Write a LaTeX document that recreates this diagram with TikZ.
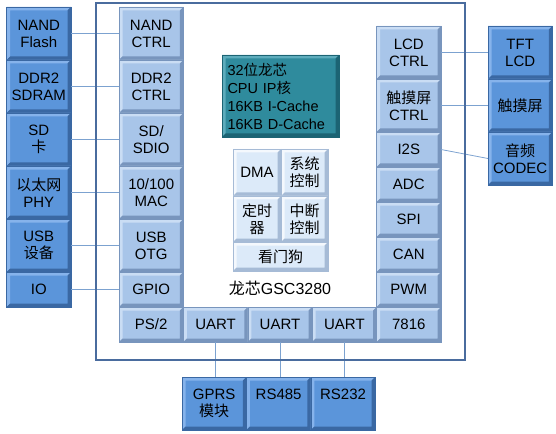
\documentclass[tikz,border=0pt]{standalone}
\usepackage{fontspec}
\setmainfont{Liberation Sans}
\newfontfamily\cjk{Noto Sans CJK SC}
\usepackage{tikz}
\usetikzlibrary{positioning,calc}

\definecolor{extblue}{HTML}{5B95DA}
\definecolor{extlight}{HTML}{86B3EB}
\definecolor{extdark}{HTML}{3A68A3}
\definecolor{intblue}{HTML}{A8C5E9}
\definecolor{intlight}{HTML}{CADDF4}
\definecolor{intdark}{HTML}{7895BD}
\definecolor{cputeal}{HTML}{2F8B9D}
\definecolor{cpulight}{HTML}{5EACBC}
\definecolor{cpudark}{HTML}{1C6474}
\definecolor{ctlblue}{HTML}{DCEAF9}
\definecolor{ctllight}{HTML}{F4F8FD}
\definecolor{ctldark}{HTML}{A6BBD6}
\definecolor{frameblue}{HTML}{4A6C9E}
\definecolor{linkblue}{HTML}{7CA2D0}

% bevelled edges: light top/left, dark bottom/right
\newcommand\bevel[3]{%
  \path (path picture bounding box.north west) coordinate (bA)
        (path picture bounding box.north east) coordinate (bB)
        (path picture bounding box.south east) coordinate (bC)
        (path picture bounding box.south west) coordinate (bD);
  \fill[#1] (bA) -- (bB) -- ([shift={(-#3,-#3)}]bB) -- ([shift={(#3,-#3)}]bA)
        -- ([shift={(#3,#3)}]bD) -- (bD) -- cycle;
  \fill[#2] (bC) -- (bD) -- ([shift={(#3,#3)}]bD) -- ([shift={(-#3,#3)}]bC)
        -- ([shift={(-#3,-#3)}]bB) -- (bB) -- cycle;
}

\tikzset{
  blk/.style n args={3}{draw=#3, line width=0.5pt, fill=#1,
    path picture={\bevel{#2}{#3}{3.5bp}}, outer sep=0pt, inner sep=1pt,
    align=center, font=\fontsize{15bp}{17bp}\selectfont,
    minimum width=64.4bp, minimum height=53bp},
  ext/.style={blk={extblue}{extlight}{extdark}},
  inn/.style={blk={intblue}{intlight}{intdark}},
  ctl/.style={blk={ctlblue}{ctllight}{ctldark}},
  cpu/.style={blk={cputeal}{cpulight}{cpudark}},
  short/.style={minimum height=35bp},
  link/.style={linkblue, line width=0.8pt},
}

\begin{document}
\begin{tikzpicture}[x=1bp, y=-1bp]
    \useasboundingbox (0,0) rectangle (556,434);

    % inner left column
    \node[inn, anchor=north west] (nandc) at (119,7) {NAND\\CTRL};
    \node[inn, below=0pt of nandc] (ddrc) {DDR2\\CTRL};
    \node[inn, below=0pt of ddrc] (sdio) {SD/\\SDIO};
    \node[inn, below=0pt of sdio] (mac) {10/100\\MAC};
    \node[inn, below=0pt of mac] (otg) {USB\\OTG};
    \node[inn, short, below=0pt of otg] (gpio) {GPIO};
    \node[inn, short, below=0pt of gpio] (ps2) {PS/2};

    % bottom row
    \node[inn, short, right=0pt of ps2] (uarta) {UART};
    \node[inn, short, right=0pt of uarta] (uartb) {UART};
    \node[inn, short, right=0pt of uartb] (uartc) {UART};
    \node[inn, short, right=0pt of uartc] (iso) {7816};

    % inner right column
    \node[inn, short, above=0pt of iso] (pwm) {PWM};
    \node[inn, short, above=0pt of pwm] (can) {CAN};
    \node[inn, short, above=0pt of can] (spi) {SPI};
    \node[inn, short, above=0pt of spi] (adc) {ADC};
    \node[inn, short, above=0pt of adc] (iis) {I2S};
    \node[inn, above=0pt of iis] (touchc) {{\cjk 触摸屏}\\CTRL};
    \node[inn, above=0pt of touchc] (lcdc) {LCD\\CTRL};

    % external devices, left
    \node[ext, left=48bp of nandc] (nandf) {NAND\\Flash};
    \node[ext, below=0pt of nandf] (sdram) {DDR2\\SDRAM};
    \node[ext, below=0pt of sdram] (sdcard) {SD\\{\cjk 卡}};
    \node[ext, below=0pt of sdcard] (phy) {{\cjk 以太网}\\PHY};
    \node[ext, below=0pt of phy] (usbdev) {USB\\{\cjk 设备}};
    \node[ext, short, below=0pt of usbdev] (io) {IO};

    % external devices, right
    \node[ext, right=47bp of lcdc] (tft) {TFT\\LCD};
    \node[ext, below=0pt of tft] (touch) {\cjk 触摸屏};
    \node[ext, below=0pt of touch] (codec) {{\cjk 音频}\\CODEC};

    % external devices, bottom
    \node[ext, anchor=north west] (gprs) at (182,377) {GPRS\\{\cjk 模块}};
    \node[ext, right=0pt of gprs, text depth=19bp] (rsa) {RS485};
    \node[ext, right=0pt of rsa, text depth=19bp] (rsb) {RS232};

    % core
    \node[cpu, minimum width=117bp, minimum height=82bp, text width=106bp,
          align=left, anchor=north west, font=\fontsize{14.5bp}{18bp}\selectfont] (core) at (222,55)
          {32{\cjk 位龙芯}\\CPU IP{\cjk 核}\\16KB I-Cache\\16KB D-Cache};
    \node[ctl, minimum width=48bp, minimum height=47bp, anchor=north west] (dma) at (233,149) {DMA};
    \node[ctl, minimum width=47bp, minimum height=47bp, right=0pt of dma] (sysc) {{\cjk 系统}\\{\cjk 控制}};
    \node[ctl, minimum width=48bp, minimum height=46bp, below=0pt of dma] (timer) {{\cjk 定时}\\{\cjk 器}};
    \node[ctl, minimum width=47bp, minimum height=46bp, right=0pt of timer] (intc) {{\cjk 中断}\\{\cjk 控制}};
    \node[ctl, minimum width=95bp, minimum height=29bp, anchor=north west] (wdog) at (timer.south west) {\cjk 看门狗};
    \node[font=\fontsize{16bp}{18bp}\selectfont] (chip) at (280,288) {{\cjk 龙芯}GSC3280};

    % connectors
    \foreach \a/\b in {nandf/nandc, sdram/ddrc, sdcard/sdio, phy/mac, usbdev/otg, io/gpio,
                       lcdc/tft, touchc/touch, iis/codec}
        \draw[link] (\a.east) -- (\b.west);
    \foreach \a/\b in {uarta/gprs, uartb/rsa, uartc/rsb}
        \draw[link] (\a.south) -- (\a.south |- \b.north);

    % chip outline
    \draw[frameblue, line width=2bp] (96,3) rectangle (465,360);
\end{tikzpicture}
\end{document}
